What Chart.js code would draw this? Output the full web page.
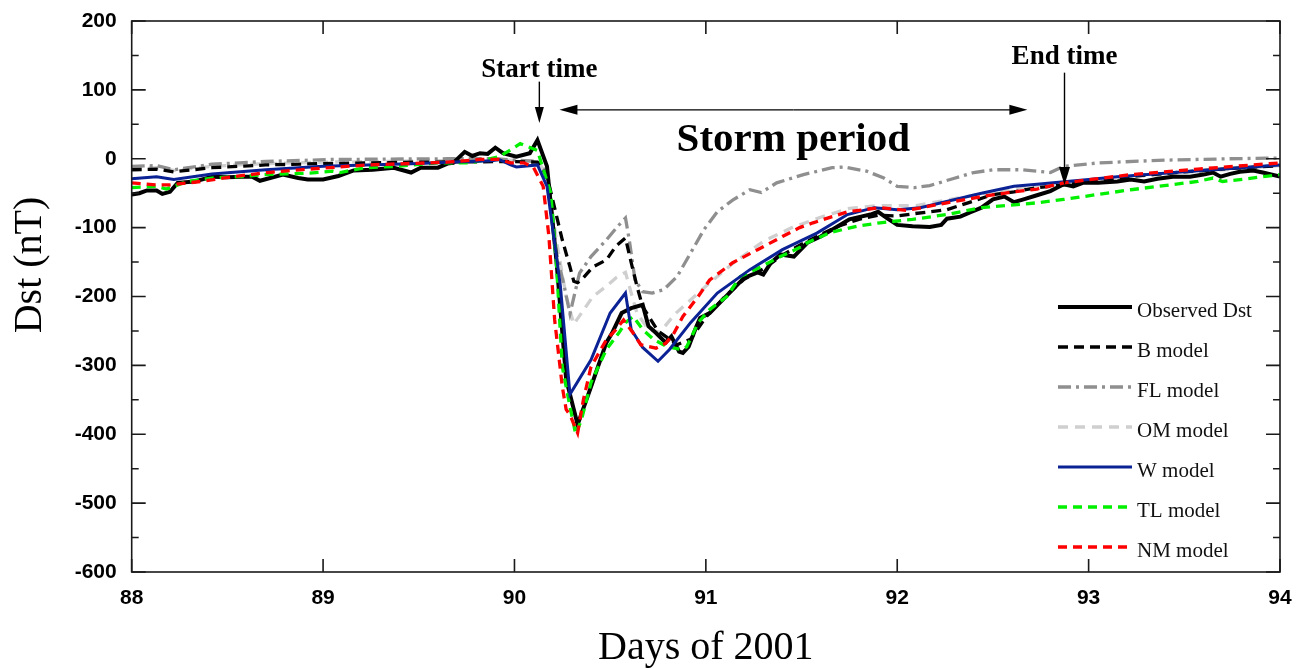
<!DOCTYPE html>
<html>
<head>
<meta charset="utf-8">
<script src="https://cdn.jsdelivr.net/npm/chart.js@4.4.1/dist/chart.umd.min.js"></script>
<style>
  html, body { margin: 0; padding: 0; background: #fff; }
  #wrap { width: 1302px; height: 668px; }
</style>
</head>
<body>
<div id="wrap"><canvas id="dst-chart" width="1302" height="668"></canvas></div>
<script>
// axis ticks
const dayTicks = [88, 89, 90, 91, 92, 93, 94];
const dstTicks = [200, 100, 0, -100, -200, -300, -400, -500, -600];

// series: [day of 2001, Dst in nT]
const observedDst = [
  [88.00,-52],[88.04,-50],[88.08,-46],[88.13,-46],[88.16,-51],[88.20,-48],[88.24,-35],[88.33,-33],
  [88.42,-26],[88.50,-27],[88.58,-26],[88.63,-26],[88.67,-32],[88.79,-23],[88.87,-28],[88.92,-30],
  [89.00,-30],[89.08,-25],[89.16,-17],[89.26,-16],[89.37,-13],[89.46,-20],[89.51,-13],[89.60,-13],
  [89.65,-7],[89.68,-6],[89.74,10],[89.78,4],[89.82,8],[89.86,7],[89.90,16],[89.94,8],[90.01,3],
  [90.08,8],[90.12,27],[90.17,-11],[90.22,-150],[90.27,-320],[90.33,-386],[90.40,-331],[90.48,-267],
  [90.51,-253],[90.56,-224],[90.61,-217],[90.67,-212],[90.70,-243],[90.74,-253],[90.79,-267],
  [90.82,-258],[90.86,-280],[90.88,-282],[90.91,-273],[90.95,-244],[90.97,-231],[91.02,-224],
  [91.08,-207],[91.14,-190],[91.20,-173],[91.27,-165],[91.30,-168],[91.34,-151],[91.39,-139],
  [91.46,-142],[91.53,-122],[91.60,-113],[91.69,-98],[91.75,-88],[91.81,-84],[91.86,-81],[91.90,-77],
  [91.95,-87],[92.00,-96],[92.08,-98],[92.17,-99],[92.23,-96],[92.26,-87],[92.33,-84],[92.38,-78],
  [92.44,-71],[92.50,-59],[92.56,-55],[92.61,-63],[92.66,-59],[92.73,-53],[92.80,-47],[92.87,-37],
  [92.92,-40],[92.97,-35],[93.05,-35],[93.15,-33],[93.22,-30],[93.29,-33],[93.36,-29],[93.44,-26],
  [93.53,-26],[93.60,-23],[93.65,-20],[93.69,-26],[93.74,-22],[93.79,-19],[93.86,-17],[93.91,-20],
  [94.00,-26]
];
const bModel = [
  [88.00,-16],[88.13,-15],[88.22,-19],[88.42,-13],[88.70,-9],[89.00,-7],[89.50,-5],[90.00,-4],
  [90.12,-5],[90.17,-25],[90.20,-60],[90.25,-118],[90.29,-157],[90.31,-178],[90.33,-180],[90.35,-176],
  [90.41,-157],[90.48,-147],[90.53,-127],[90.58,-115],[90.61,-151],[90.64,-185],[90.67,-215],
  [90.75,-250],[90.85,-270],[90.92,-262],[91.00,-230],[91.10,-200],[91.20,-175],[91.30,-160],
  [91.40,-140],[91.50,-124],[91.60,-110],[91.70,-97],[91.80,-88],[91.90,-82],[92.00,-83],[92.08,-80],
  [92.26,-74],[92.37,-64],[92.50,-52],[92.61,-48],[92.73,-42],[92.87,-38],[93.00,-33],[93.25,-25],
  [93.50,-19],[93.75,-14],[94.00,-10]
];
const flModel = [
  [88.00,-11],[88.13,-10],[88.22,-16],[88.42,-8],[88.70,-4],[89.05,-1],[89.65,0],[89.90,0],[90.12,-4],
  [90.17,-20],[90.22,-137],[90.26,-185],[90.29,-225],[90.34,-166],[90.40,-142],[90.48,-118],
  [90.54,-98],[90.58,-86],[90.60,-118],[90.63,-176],[90.67,-193],[90.72,-195],[90.78,-190],
  [90.85,-171],[90.92,-137],[90.99,-103],[91.06,-77],[91.14,-60],[91.23,-45],[91.29,-49],[91.37,-35],
  [91.51,-23],[91.66,-13],[91.72,-12],[91.84,-18],[91.93,-28],[92.00,-40],[92.09,-42],[92.17,-39],
  [92.29,-29],[92.40,-20],[92.50,-16],[92.65,-16],[92.80,-20],[92.87,-11],[93.05,-6],[93.40,-2],
  [93.74,0],[94.00,1]
];
const omModel = [
  [88.00,-14],[88.13,-13],[88.22,-17],[88.42,-11],[88.70,-7],[89.00,-5],[89.50,-3],[90.00,-2],
  [90.12,-4],[90.17,-22],[90.22,-120],[90.27,-200],[90.31,-240],[90.35,-224],[90.41,-200],
  [90.48,-185],[90.53,-173],[90.58,-165],[90.61,-195],[90.64,-224],[90.70,-248],[90.76,-252],
  [90.84,-225],[90.92,-205],[91.00,-185],[91.15,-150],[91.30,-120],[91.45,-100],[91.60,-85],
  [91.75,-72],[91.90,-68],[92.10,-68],[92.30,-58],[92.50,-48],[92.70,-40],[93.00,-32],[93.50,-20],
  [94.00,-10]
];
const wModel = [
  [88.00,-29],[88.13,-26],[88.22,-30],[88.42,-22],[88.70,-16],[89.00,-11],[89.50,-7],[89.65,-5],
  [89.88,-3],[89.92,-1],[89.98,-9],[90.01,-12],[90.12,-9],[90.17,-40],[90.24,-185],[90.29,-342],
  [90.40,-292],[90.50,-224],[90.58,-195],[90.61,-248],[90.67,-274],[90.75,-294],[90.81,-277],
  [90.92,-238],[91.06,-195],[91.23,-161],[91.40,-132],[91.58,-108],[91.74,-81],[91.88,-71],
  [92.00,-74],[92.12,-71],[92.23,-64],[92.44,-50],[92.61,-40],[92.73,-37],[93.00,-30],[93.15,-26],
  [93.59,-17],[94.00,-9]
];
const tlModel = [
  [88.00,-42],[88.13,-40],[88.18,-44],[88.29,-33],[88.42,-28],[88.57,-26],[88.69,-23],[88.81,-22],
  [88.93,-21],[89.05,-18],[89.09,-20],[89.22,-13],[89.39,-11],[89.60,-6],[89.77,-6],[89.92,3],
  [89.98,13],[90.03,22],[90.12,12],[90.19,-50],[90.22,-156],[90.25,-302],[90.29,-360],[90.32,-400],
  [90.35,-379],[90.40,-325],[90.48,-277],[90.55,-251],[90.58,-238],[90.62,-229],[90.67,-248],
  [90.73,-263],[90.80,-273],[90.87,-277],[90.90,-273],[90.96,-238],[91.02,-219],[91.11,-200],
  [91.18,-171],[91.28,-158],[91.39,-142],[91.49,-129],[91.53,-122],[91.65,-107],[91.79,-98],
  [91.91,-93],[92.08,-88],[92.26,-81],[92.44,-71],[92.61,-67],[92.73,-64],[92.87,-59],[93.22,-45],
  [93.57,-33],[93.65,-28],[93.70,-33],[93.83,-29],[94.00,-23]
];
const nmModel = [
  [88.00,-35],[88.13,-38],[88.20,-38],[88.36,-33],[88.53,-26],[88.71,-20],[88.88,-16],[89.23,-9],
  [89.65,-5],[89.82,-1],[89.92,-1],[89.98,-6],[90.05,-6],[90.10,-13],[90.15,-40],[90.18,-113],
  [90.21,-234],[90.25,-331],[90.27,-364],[90.29,-372],[90.33,-398],[90.36,-350],[90.40,-302],
  [90.48,-263],[90.53,-248],[90.57,-234],[90.62,-253],[90.66,-270],[90.74,-275],[90.79,-268],
  [90.83,-255],[90.88,-229],[90.96,-200],[91.02,-176],[91.14,-151],[91.27,-132],[91.40,-113],
  [91.49,-100],[91.56,-93],[91.74,-77],[91.91,-71],[92.05,-75],[92.26,-64],[92.44,-55],[92.61,-48],
  [92.73,-44],[92.87,-35],[93.22,-23],[93.57,-15],[94.00,-6]
];

const seriesNames = ['Observed Dst', 'B model', 'FL model', 'OM model', 'W model', 'TL model', 'NM model'];
const seriesData = [observedDst, bModel, flModel, omModel, wModel, tlModel, nmModel];
const seriesColors = ['#000000', '#000000', '#8f8f8f', '#cfcfcf', '#0b2295', '#00f000', '#ff0000'];
const seriesDash = [[], [10, 6], [13, 5, 3, 5], [10, 7], [], [9, 6], [9, 6]];
const seriesWidth = [4, 3.3, 3.3, 3.3, 3, 3.3, 3.3];
const seriesOrder = [4, 5, 6, 7, 2, 3, 1];

const serif = '"Liberation Serif", "DejaVu Serif", serif';
const sans = '"Liberation Sans", Arial, sans-serif';

const toXY = pts => pts.map(p => ({ x: p[0], y: p[1] }));

const datasets = seriesNames.map((name, i) => ({
    label: name,
    data: toXY(seriesData[i]),
    borderColor: seriesColors[i],
    borderDash: seriesDash[i],
    borderWidth: seriesWidth[i],
    pointRadius: 0,
    tension: 0,
    fill: false,
    order: seriesOrder[i]
}));

// draw an arrow with a filled head between two pixel points
const arrow = (ctx, x1, y1, x2, y2, headLen, headHalf) => {
    const ang = Math.atan2(y2 - y1, x2 - x1);
    ctx.beginPath();
    ctx.moveTo(x1, y1);
    ctx.lineTo(x2 - Math.cos(ang) * headLen * 0.8, y2 - Math.sin(ang) * headLen * 0.8);
    ctx.stroke();
    ctx.beginPath();
    ctx.moveTo(x2, y2);
    ctx.lineTo(x2 - Math.cos(ang) * headLen - Math.sin(ang) * headHalf, y2 - Math.sin(ang) * headLen + Math.cos(ang) * headHalf);
    ctx.lineTo(x2 - Math.cos(ang) * headLen + Math.sin(ang) * headHalf, y2 - Math.sin(ang) * headLen - Math.cos(ang) * headHalf);
    ctx.closePath();
    ctx.fill();
};

const decorations = {
    id: 'decorations',
    afterDraw(chart) {
        const { ctx, chartArea: a, scales: { x, y } } = chart;
        ctx.save();

        // frame + inward ticks
        ctx.strokeStyle = '#1a1a1a';
        ctx.lineWidth = 1.6;
        ctx.setLineDash([]);
        ctx.strokeRect(a.left, a.top, a.right - a.left, a.bottom - a.top);
        ctx.beginPath();
        dayTicks.forEach(d => {
            const px = x.getPixelForValue(d);
            ctx.moveTo(px, a.bottom); ctx.lineTo(px, a.bottom - 13);
            ctx.moveTo(px, a.top); ctx.lineTo(px, a.top + 13);
        });
        for (let v = -600; v <= 200; v += 50) {
            const py = y.getPixelForValue(v);
            const len = v % 100 === 0 ? 14 : 7;
            ctx.moveTo(a.left, py); ctx.lineTo(a.left + len, py);
            ctx.moveTo(a.right, py); ctx.lineTo(a.right - len, py);
        }
        ctx.stroke();

        // axis titles
        ctx.fillStyle = '#000';
        ctx.font = '40px ' + serif;
        ctx.textAlign = 'center';
        ctx.textBaseline = 'middle';
        ctx.fillText('Days of 2001', (a.left + a.right) / 2, 648);
        ctx.save();
        ctx.translate(30, 265);
        ctx.rotate(-Math.PI / 2);
        ctx.fillText('Dst (nT)', 0, 0);
        ctx.restore();

        // annotations
        ctx.lineWidth = 1.4;
        ctx.strokeStyle = '#000';
        ctx.font = 'bold 27px ' + serif;
        const sx = x.getPixelForValue(90.13);
        ctx.fillText('Start time', sx, 70);
        arrow(ctx, sx, y.getPixelForValue(112), sx, y.getPixelForValue(52), 16, 4.5);
        const ex = x.getPixelForValue(92.874);
        ctx.fillText('End time', ex, 57);
        arrow(ctx, ex, y.getPixelForValue(125), ex, y.getPixelForValue(-38), 18, 5.5);
        const hy = y.getPixelForValue(71);
        const hx1 = x.getPixelForValue(90.235), hx2 = x.getPixelForValue(92.68);
        arrow(ctx, (hx1 + hx2) / 2, hy, hx1, hy, 18, 5);
        arrow(ctx, (hx1 + hx2) / 2, hy, hx2, hy, 18, 5);
        ctx.font = 'bold 41px ' + serif;
        ctx.fillText('Storm period', x.getPixelForValue(91.457), y.getPixelForValue(26));

        // legend
        ctx.textAlign = 'left';
        ctx.font = '21px ' + serif;
        seriesNames.forEach((name, i) => {
            const ly = 307 + i * 40;
            ctx.strokeStyle = seriesColors[i];
            ctx.lineWidth = seriesWidth[i];
            ctx.setLineDash(seriesDash[i]);
            ctx.beginPath();
            ctx.moveTo(1058, ly); ctx.lineTo(1132, ly);
            ctx.stroke();
            ctx.fillStyle = '#111';
            ctx.fillText(name, 1137, ly + 4);
        });
        ctx.restore();
    }
};

new Chart(document.getElementById('dst-chart'), {
    type: 'line',
    data: { datasets },
    options: {
        responsive: false,
        animation: false,
        devicePixelRatio: 1,
        layout: { padding: { left: 0, right: 22, top: 21, bottom: 0 } },
        plugins: { legend: { display: false }, tooltip: { enabled: false } },
        scales: {
            x: {
                type: 'linear',
                min: 88, max: 94,
                afterBuildTicks: s => { s.ticks = dayTicks.map(v => ({ value: v })); },
                afterFit: s => { s.height = 96; s.paddingLeft = 0; s.paddingRight = 0; },
                grid: { display: false, drawTicks: false },
                border: { display: false },
                ticks: { padding: 14, color: '#000', font: { family: sans, size: 21, weight: 'bold' } }
            },
            y: {
                type: 'linear',
                min: -600, max: 200,
                afterBuildTicks: s => { s.ticks = dstTicks.map(v => ({ value: v })); },
                afterFit: s => { s.width = 131.7; s.paddingTop = 0; s.paddingBottom = 0; },
                grid: { display: false, drawTicks: false },
                border: { display: false },
                ticks: { padding: 15, color: '#000', font: { family: sans, size: 21, weight: 'bold' } }
            }
        }
    },
    plugins: [decorations]
});
</script>
</body>
</html>
